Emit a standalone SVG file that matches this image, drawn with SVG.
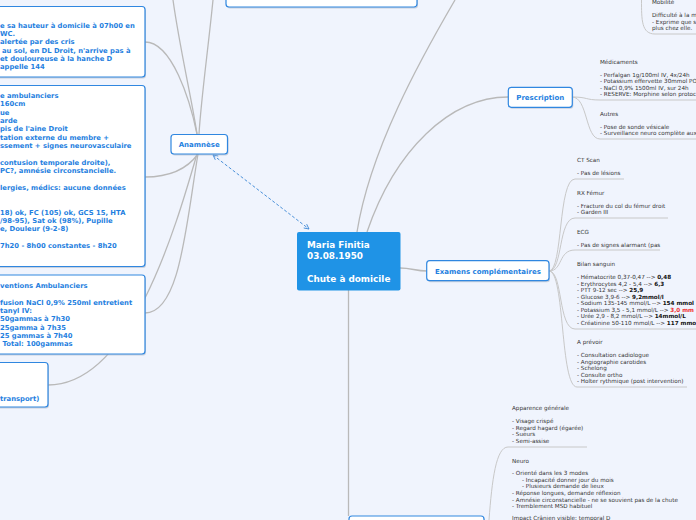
<svg xmlns="http://www.w3.org/2000/svg" width="696" height="520" viewBox="0 0 696 520">
<style>
.box{fill:#fff;stroke:#3087e0;stroke-width:1.2}
.sh{fill:#aab4c4;opacity:.55}
.t{font-family:"DejaVu Sans",Verdana,sans-serif;font-weight:bold;font-size:7px;fill:#1f7fe0}
.bt{font-family:"DejaVu Sans",Verdana,sans-serif;font-weight:bold;font-size:6.8px;fill:#1f7fe0}
.ct{font-family:"DejaVu Sans",Verdana,sans-serif;font-weight:bold;font-size:8.85px;fill:#fff}
.s{font-family:"DejaVu Sans",Verdana,sans-serif;font-size:5.65px;fill:#333}
.b{font-weight:bold;fill:#111}
.r{font-weight:bold;fill:#f03030}
.c{fill:none;stroke:#b9b9b9;stroke-width:1.3}
.u{fill:none;stroke:#c8c8c8;stroke-width:1}
</style>
<defs>
<marker id="ah" viewBox="0 0 10 10" refX="9" refY="5" markerWidth="6" markerHeight="6" orient="auto-start-reverse">
<path d="M1,1 L9,5 L1,9" fill="none" stroke="#4a90d9" stroke-width="1.5"/>
</marker>
</defs>
<rect width="696" height="520" fill="#f0f4fd"/>

<g id="connectors">
<path class="c" d="M173,0 C180,50 192,100 197,134"/>
<path class="c" d="M213,0 C208,50 201,100 199,134"/>
<path class="c" d="M145,42 C172,42 190,100 197,134"/>
<path class="c" d="M145,177 C175,177 190,165 198,154"/>
<path class="c" d="M198,154 C186,225 180,313 145,313"/>
<path class="c" d="M197,154 C175,230 130,385 48,385"/>
<path class="c" d="M357,232 C370,150 420,60 455,0"/>
<path class="c" d="M367,232 C395,150 450,97 508,97"/>
<path class="c" d="M400,268 C412,268 415,271 427,271"/>
<path class="c" d="M348.5,290 L348.5,516"/>
<path class="u" d="M572,97 C588,97 585,100 600,100 L696,100"/>
<path class="u" d="M572,97 C588,97 585,139 600,139 L696,139"/>
<path class="u" d="M641.5,0 C641.5,20 641.5,34 655,34 L696,34"/>
<path class="u" d="M549,271 C563,271 558,179 575,179 L624,179"/>
<path class="u" d="M549,271 C563,271 558,218 575,218 L668,218"/>
<path class="u" d="M549,271 C563,271 558,250 575,250 L660,250"/>
<path class="u" d="M549,271 C563,271 558,329 575,329 L696,329"/>
<path class="u" d="M549,271 C565,271 560,387 577,387 L687,387"/>
<path class="u" d="M489,520 C492,480 496,447 508,447 L587,447"/>
<path d="M213,155 L309,229" fill="none" stroke="#4a90d9" stroke-width="1" stroke-dasharray="3,2" marker-start="url(#ah)" marker-end="url(#ah)"/>
</g>

<g id="node-box1">
<rect class="sh" x="-9" y="8" width="155" height="70.5" rx="3"/>
<rect class="box" x="-10" y="6.5" width="155" height="70.5" rx="3"/>
<text class="bt" x="0" y="27.5">e sa hauteur à domicile à 07h00 en</text>
<text class="bt" x="0" y="35.8">WC.</text>
<text class="bt" x="0" y="44.2">alertée par des cris</text>
<text class="bt" x="2" y="52.5">au sol, en DL Droit, n'arrive pas à</text>
<text class="bt" x="0" y="60.8">et douloureuse à la hanche D</text>
<text class="bt" x="0" y="69.2">appelle 144</text>
</g>

<g id="node-box2">
<rect class="sh" x="-9" y="87" width="155" height="181" rx="3"/>
<rect class="box" x="-10" y="85.5" width="155" height="181" rx="3"/>
<text class="bt" x="0" y="97.8">e ambulanciers</text>
<text class="bt" x="0" y="106.2">160cm</text>
<text class="bt" x="0" y="114.5">ue</text>
<text class="bt" x="0" y="122.9">arde</text>
<text class="bt" x="0" y="131.2">pis de l'aine Droit</text>
<text class="bt" x="0" y="139.6">tation externe du membre +</text>
<text class="bt" x="0" y="147.9">ssement + signes neurovasculaire</text>
<text class="bt" x="0" y="164.6">contusion temporale droite),</text>
<text class="bt" x="0" y="173">PC?, amnésie circonstancielle.</text>
<text class="bt" x="0" y="189.7">lergies, médics: aucune données</text>
<text class="bt" x="0" y="214.7">18) ok, FC (105) ok, GCS 15, HTA</text>
<text class="bt" x="0" y="223.1">/98-95), Sat ok (98%), Pupille</text>
<text class="bt" x="0" y="231.4">e, Douleur (9-2-8)</text>
<text class="bt" x="0" y="248.1">7h20 - 8h00 constantes - 8h20</text>
</g>

<g id="node-box3">
<rect class="sh" x="-9" y="276.5" width="155" height="79" rx="3"/>
<rect class="box" x="-10" y="275" width="155" height="79" rx="3"/>
<text class="bt" x="0" y="287.8">ventions Ambulanciers</text>
<text class="bt" x="0" y="304.6">fusion NaCl 0,9% 250ml entretient</text>
<text class="bt" x="0" y="312.9">tanyl IV:</text>
<text class="bt" x="0" y="321.3">50gammas à 7h30</text>
<text class="bt" x="0" y="329.6">25gamma à 7h35</text>
<text class="bt" x="0" y="338">25 gammas à 7h40</text>
<text class="bt" x="2.5" y="346.3">Total: 100gammas</text>
</g>

<g id="node-box4">
<rect class="sh" x="-9" y="364" width="58" height="44.5" rx="3"/>
<rect class="box" x="-10" y="362.5" width="58" height="44.5" rx="3"/>
<text class="bt" x="0" y="400.8">transport)</text>
</g>

<g id="node-top">
<rect class="sh" x="227" y="-18.5" width="191" height="27" rx="3"/>
<rect class="box" x="226" y="-20" width="191" height="27" rx="3"/>
</g>

<g id="node-anamnese">
<rect class="sh" x="172" y="136" width="56.5" height="19.5" rx="3"/>
<rect class="box" x="171" y="134.5" width="56.5" height="19.5" rx="3"/>
<text class="t" x="199.2" y="146.9" text-anchor="middle">Anamnèse</text>
</g>

<g id="node-central">
<rect x="297" y="232" width="103.5" height="58.5" rx="2" fill="#1f93e6"/>
<text class="ct" x="307" y="248.3">Maria Finitia</text>
<text class="ct" x="307" y="259">03.08.1950</text>
<text class="ct" x="307" y="282.3">Chute à domicile</text>
</g>

<g id="node-prescription">
<rect class="sh" x="509.3" y="88.8" width="64" height="20" rx="3"/>
<rect class="box" x="508.3" y="87.3" width="64" height="20" rx="3"/>
<text class="t" x="540.3" y="100.3" text-anchor="middle">Prescription</text>
</g>

<g id="node-examens">
<rect class="sh" x="427.7" y="262.2" width="122.3" height="20" rx="3"/>
<rect class="box" x="426.7" y="260.7" width="122.3" height="20" rx="3"/>
<text class="t" x="487.9" y="274.2" text-anchor="middle">Examens complémentaires</text>
</g>

<g id="node-examen-clinique">
<rect class="sh" x="350" y="517.5" width="135" height="20" rx="3"/>
<rect class="box" x="349" y="516" width="135" height="20" rx="3"/>
</g>

<g id="topic-mobilite">
<text class="s" x="652" y="4">Mobilité</text>
<text class="s" x="652" y="17">Difficulté à la m</text>
<text class="s" x="652" y="23.7">- Exprime que s</text>
<text class="s" x="652" y="29.7">plus chez elle.</text>
</g>

<g id="topic-medicaments">
<text class="s" x="600" y="64.3">Médicaments</text>
<text class="s" x="600" y="76.7">- Perfalgan 1g/100ml IV, 4x/24h</text>
<text class="s" x="600" y="83">- Potassium effervette 30mmol PO</text>
<text class="s" x="600" y="89.7">- NaCl 0,9% 1500ml IV, sur 24h</text>
<text class="s" x="600" y="95.8">- RESERVE: Morphine selon protoc</text>
</g>

<g id="topic-autres">
<text class="s" x="600" y="115.7">Autres</text>
<text class="s" x="600" y="128.7">- Pose de sonde vésicale</text>
<text class="s" x="600" y="135">- Surveillance neuro complète aux</text>
</g>

<g id="topic-ct">
<text class="s" x="577" y="162">CT Scan</text>
<text class="s" x="577" y="175.3">- Pas de lésions</text>
</g>

<g id="topic-rx">
<text class="s" x="577" y="194.7">RX Fémur</text>
<text class="s" x="577" y="207.6">- Fracture du col du fémur droit</text>
<text class="s" x="577" y="213.9">- Garden III</text>
</g>

<g id="topic-ecg">
<text class="s" x="577" y="233.7">ECG</text>
<text class="s" x="577" y="247">- Pas de signes alarmant (pas</text>
</g>

<g id="topic-bilan">
<text class="s" x="577" y="266">Bilan sanguin</text>
<text class="s" x="577" y="278.7">- Hématocrite 0,37-0,47 --&gt; <tspan class="b">0,48</tspan></text>
<text class="s" x="577" y="285.6">- Erythrocytes 4,2 - 5,4  --&gt; <tspan class="b">6,3</tspan></text>
<text class="s" x="577" y="292">- PTT 9-12 sec --&gt; <tspan class="b">25,9</tspan></text>
<text class="s" x="577" y="298.6">- Glucose 3,9-6  --&gt; <tspan class="b">9,2mmol/l</tspan></text>
<text class="s" x="577" y="305.2">- Sodium 135-145 mmol/L --&gt; <tspan class="b">154 mmol</tspan></text>
<text class="s" x="577" y="311.8">- Potassium 3,5 - 5,1 mmol/L --&gt; <tspan class="r">3,0 mm</tspan></text>
<text class="s" x="577" y="318.2">- Urée 2,9 - 8,2 mmol/L --&gt; <tspan class="b">14mmol/L</tspan></text>
<text class="s" x="577" y="324.7">- Créatinine 50-110 mmol/L --&gt; <tspan class="b">117 mmo</tspan></text>
</g>

<g id="topic-aprevoir">
<text class="s" x="577" y="343.7">A prévoir</text>
<text class="s" x="577" y="357">- Consultation cadiologue</text>
<text class="s" x="577" y="363.5">- Angiographie carotides</text>
<text class="s" x="577" y="370">- Schelong</text>
<text class="s" x="577" y="376.5">- Consulte ortho</text>
<text class="s" x="577" y="382.7">- Holter rythmique (post intervention)</text>
</g>

<g id="topic-apparence">
<text class="s" x="512" y="410.3">Apparence générale</text>
<text class="s" x="512" y="423">- Visage crispé</text>
<text class="s" x="512" y="429.5">- Regard hagard (égarée)</text>
<text class="s" x="512" y="436">- Sueurs</text>
<text class="s" x="512" y="442.6">- Semi-assise</text>
</g>

<g id="topic-neuro">
<text class="s" x="512" y="462.7">Neuro</text>
<text class="s" x="512" y="475.2">- Orienté dans les 3 modes</text>
<text class="s" x="522" y="481.8">- Incapacité donner jour du mois</text>
<text class="s" x="522" y="488.2">- Plusieurs demande de lieux</text>
<text class="s" x="512" y="495.2">- Réponse longues, demande réflexion</text>
<text class="s" x="512" y="501.5">- Amnésie circonstancielle - ne se souvient pas de la chute</text>
<text class="s" x="512" y="508.2">- Tremblement MSD habituel</text>
<text class="s" x="512" y="519.5">Impact Crânien visible: temporal D</text>
</g>
</svg>
